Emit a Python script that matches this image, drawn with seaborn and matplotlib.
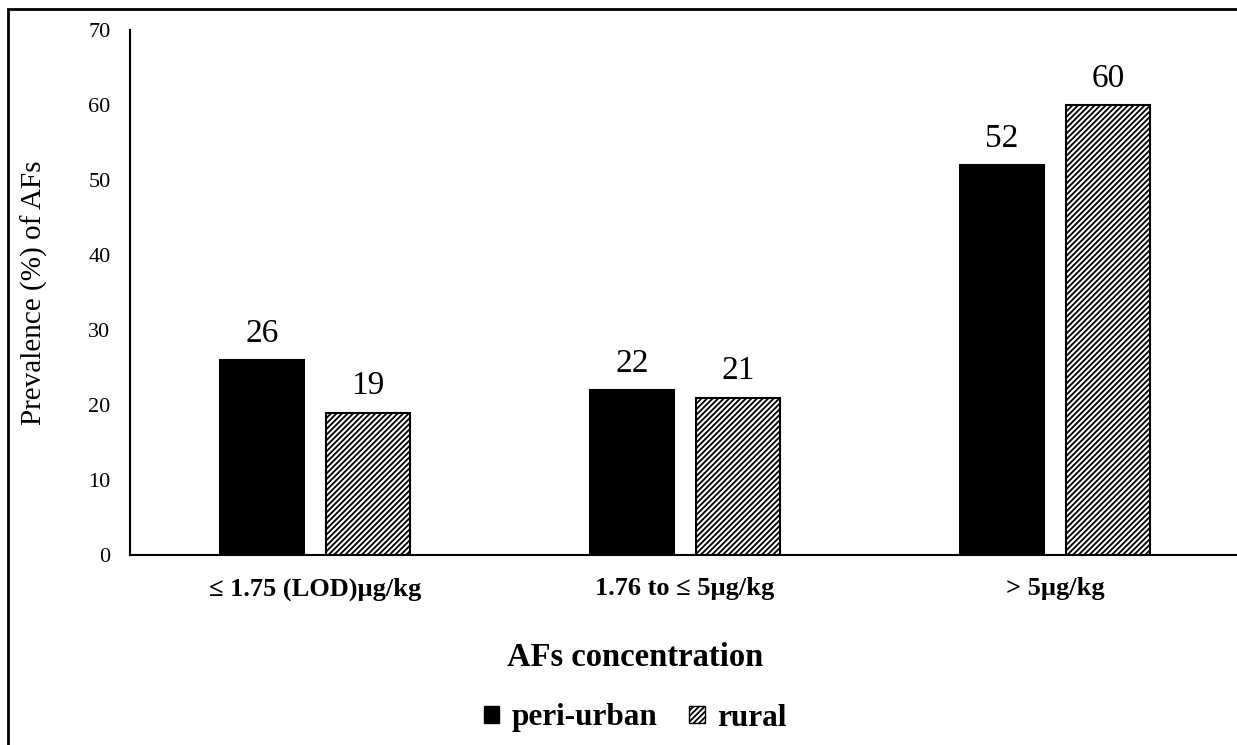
import matplotlib
matplotlib.use("Agg")
import matplotlib.pyplot as plt
from matplotlib.patches import Patch, Rectangle
import pandas as pd
import seaborn as sns

# AFs prevalence by concentration class and area
categories = ["≤ 1.75 (LOD)µg/kg", "1.76 to ≤ 5µg/kg", "> 5µg/kg"]
peri_urban = [26, 22, 52]
rural = [19, 21, 60]
areas = ["peri-urban", "rural"]
y_ticks = [0, 10, 20, 30, 40, 50, 60, 70]

df = pd.DataFrame({
    "concentration": categories * 2,
    "prevalence": peri_urban + rural,
    "area": [areas[0]] * len(categories) + [areas[1]] * len(categories),
})

sns.set_theme(style="white")
plt.rcParams["font.family"] = ["Liberation Serif", "DejaVu Serif"]
plt.rcParams["hatch.linewidth"] = 1.3
for key in ["text.color", "axes.labelcolor", "xtick.color", "ytick.color"]:
    plt.rcParams[key] = "black"

W, H = 1237, 745
fig = plt.figure(figsize=(W / 100, H / 100), dpi=100)
ax = fig.add_axes([130 / W, 1 - 555 / H, 1110 / W, 525 / H])

sns.barplot(
    data=df, x="concentration", y="prevalence", hue="area",
    order=categories, hue_order=areas,
    palette={"peri-urban": "black", "rural": "white"},
    saturation=1, width=0.573, gap=0.2,
    edgecolor="black", linewidth=1.5, legend=False, ax=ax,
)
for bar in ax.containers[1]:
    bar.set_hatch("//////")

for cont in ax.containers:
    ax.bar_label(cont, fmt="%d", padding=8, fontsize=24)

ax.set_xlim(-0.5, 2.5)
ax.set_ylim(0, 70)
ax.set_yticks(y_ticks)
ax.tick_params(axis="y", length=0, pad=14, labelsize=16)
ax.tick_params(axis="x", length=0, pad=16, labelsize=19)
for lab in ax.get_xticklabels():
    lab.set_fontweight("bold")

for s in ["top", "right"]:
    ax.spines[s].set_visible(False)
for s in ["left", "bottom"]:
    ax.spines[s].set_color("black")
    ax.spines[s].set_linewidth(1.5)

ax.set_ylabel("Prevalence (%) of AFs", fontsize=21)
ax.yaxis.set_label_coords(-82 / 1110, 0.5)
ax.set_xlabel("")
fig.text(635 / W, 1 - 658 / H, "AFs concentration", fontsize=23.5,
         fontweight="bold", ha="center", va="center")

handles = [
    Patch(facecolor="black", edgecolor="black", label=areas[0]),
    Patch(facecolor="white", edgecolor="black", hatch="//////", label=areas[1]),
]
fig.legend(handles=handles, loc="center", bbox_to_anchor=(635 / W, 1 - 718 / H),
           ncol=2, frameon=False, handlelength=0.5, handleheight=0.5,
           handletextpad=0.4, columnspacing=1.0,
           prop={"size": 22.5, "weight": "bold"})

# outer frame
fig.add_artist(Rectangle((8 / W, -0.1), 2, 1 - 9 / H + 0.1,
                         transform=fig.transFigure, fill=False,
                         edgecolor="black", linewidth=2))

fig.savefig("out.png", dpi=100)
